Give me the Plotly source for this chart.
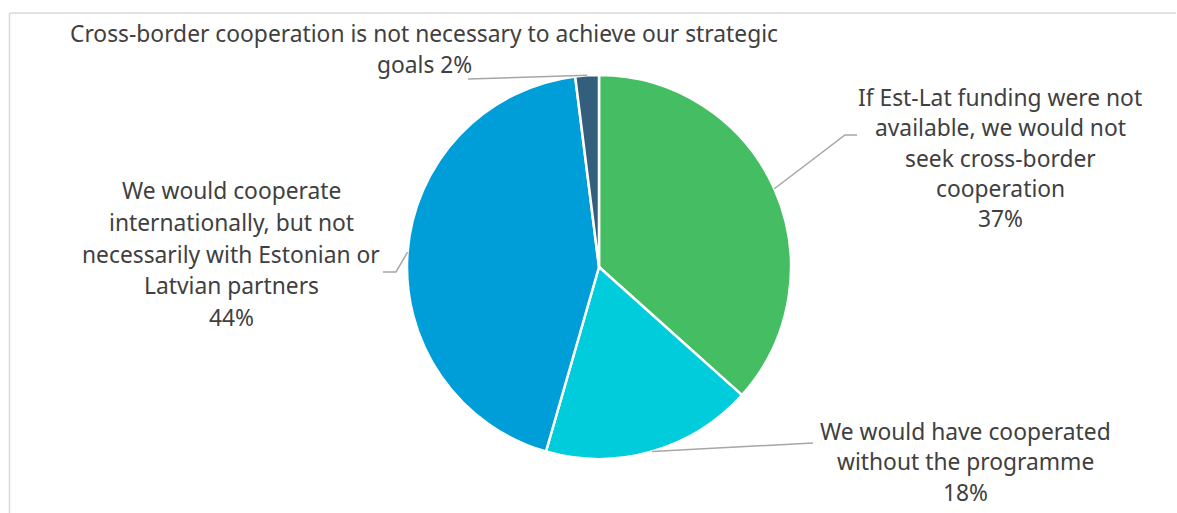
import math
import plotly.graph_objects as go

# Survey answers (share of respondents, %)
categories = [
    "If Est-Lat funding were not\navailable, we would not\nseek cross-border\ncooperation",
    "We would have cooperated\nwithout the programme",
    "We would cooperate\ninternationally, but not\nnecessarily with Estonian or\nLatvian partners",
    "Cross-border cooperation is not necessary to achieve our strategic\ngoals",
]
values = [37, 18, 44, 2]
colors = ["#45BD62", "#00CCDB", "#009ED9", "#335F7D"]

W, H = 1177, 513
CX, CY, R = 599, 267, 192  # pie centre and radius in pixels

# Label layout: (text centre x, first line y, line gap, leader elbow x, elbow y, leader end x)
label_layout = [
    (1000, 97, 30.5, 845, 135, 857),
    (965, 431, 30.5, 813, 443, 813),
    (231, 191, 31.5, 396, 272, 383),
    (424, 33, 31, 468, 79, 468),
]

def px(x):
    return x / W

def py(y):
    return 1 - y / H

fig = go.Figure(
    go.Pie(
        labels=[c.replace("\n", " ") for c in categories],
        values=values,
        sort=False,
        direction="clockwise",
        rotation=0,
        marker=dict(colors=colors, line=dict(color="white", width=2.5)),
        textinfo="none",
        hoverinfo="label+value",
        showlegend=False,
        domain=dict(x=[px(CX - R), px(CX + R)], y=[py(CY + R), py(CY - R)]),
    )
)

annotations = []
shapes = []
total = sum(values)
start = 0.0
for cat, val, (tx, ty, gap, ex, ey, lx) in zip(categories, values, label_layout):
    mid = (start + val / 2) / total * 2 * math.pi
    start += val
    # leader line from slice edge at its mid-angle
    sx = CX + R * math.sin(mid)
    sy = CY - R * math.cos(mid)
    shapes.append(dict(
        type="path", xref="paper", yref="paper",
        path=f"M {px(sx)},{py(sy)} L {px(ex)},{py(ey)} L {px(lx)},{py(ey)}",
        line=dict(color="#A6A6A6", width=1.5),
    ))
    lines = cat.split("\n")
    if val == 2:
        lines[-1] = lines[-1] + f" {val}%"
    else:
        lines.append(f"{val}%")
    for i, line in enumerate(lines):
        annotations.append(dict(
            x=px(tx), y=py(ty + i * gap), xref="paper", yref="paper",
            text=line, showarrow=False, xanchor="center", yanchor="middle",
            font=dict(family="Noto Sans", size=22.8, color="#404040"),
        ))

# light frame along top and left edges
shapes.append(dict(type="line", xref="paper", yref="paper",
                   x0=px(9.5), y0=py(13), x1=px(1176), y1=py(13),
                   line=dict(color="#D9D9D9", width=1.5)))
shapes.append(dict(type="line", xref="paper", yref="paper",
                   x0=px(9.5), y0=py(13), x1=px(9.5), y1=0,
                   line=dict(color="#D9D9D9", width=1.5)))

fig.update_layout(
    width=W, height=H,
    margin=dict(l=0, r=0, t=0, b=0),
    paper_bgcolor="white",
    plot_bgcolor="white",
    annotations=annotations,
    shapes=shapes,
)

fig.write_html("out.html")
